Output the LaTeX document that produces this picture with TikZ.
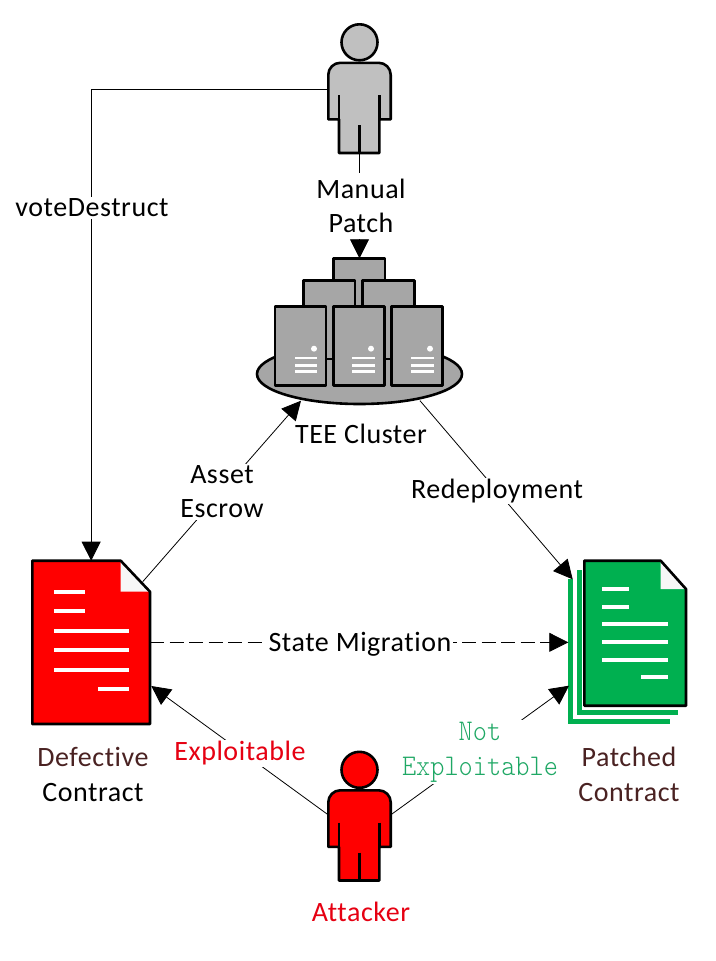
\documentclass[tikz,border=0pt]{standalone}
\usepackage{fontspec}
\setmainfont[LetterSpace=2,Ligatures=NoCommon]{Carlito}
\setmonofont[FakeStretch=0.9]{Latin Modern Mono Light}
\usetikzlibrary{arrows.meta}
\definecolor{brownlabel}{HTML}{4A2222}
\definecolor{redlabel}{HTML}{E60012}
\definecolor{greenlabel}{HTML}{1FA865}
\definecolor{docgreen}{HTML}{00B050}
\definecolor{serverfill}{HTML}{A6A6A6}
\definecolor{personfill}{HTML}{C0C0C0}
\definecolor{foldfill}{HTML}{F7F7F7}
\tikzset{
  outline/.style={draw=black,line width=2.6pt,line join=round},
  anchorbox/.style={inner sep=0pt,outer sep=0pt,rectangle},
  conn/.style={draw=black,line width=0.8pt},
  tip/.style={-{Triangle[length=19pt,width=19pt]}},
  lbl/.style={inner sep=1.5pt,fill=white,align=center,font=\fontsize{28}{34}\selectfont},
  plainlbl/.style={inner sep=0pt,align=center,font=\fontsize{28}{35}\selectfont},
  whitebar/.style={draw=white,line width=4pt},
}
\newcommand{\personfig}[2]{%
  \begin{scope}[shift={(0,#1)}]
    \fill[#2] (359.5,42.3) circle (18);
    \draw[outline] (359.5,42.3) circle (18);
    \path[outline,fill=#2] (328.3,119.3) [rounded corners=12] -- (328.3,62.8) -- (390.7,62.8) [sharp corners] -- (390.7,119.3) -- (379.3,119.3) -- (379.3,153) -- (339,153) -- (339,119.3) -- cycle;
    \draw[outline] (339,95) -- (339,119.3) (379.3,95) -- (379.3,119.3) (359.5,125) -- (359.5,153);
  \end{scope}}
\newcommand{\serverbox}[4]{%
  \path[outline,fill=serverfill] (#1,#2) rectangle (#3,#4);}
\newcommand{\serverfront}[4]{%
  \path[outline,fill=serverfill] (#1,306.7) rectangle (#1+51,385.7);
  \fill[white] (#2,348.7) circle (3);
  \draw[draw=white,line width=2.2pt] (#3,358.3) -- (#4,358.3) (#3,365.5) -- (#4,365.5) (#3,371.5) -- (#4,371.5);}
\begin{document}
\begin{tikzpicture}[x=1pt,y=-1pt]
\useasboundingbox (0,0) rectangle (715,961);
\fill[white] (0,0) rectangle (715,961);

% anchor boxes
\node[anchorbox,minimum width=62.4pt,minimum height=90.2pt] (manual) at (359.5,107.9) {};
\node[anchorbox,minimum width=62.4pt,minimum height=90.2pt] (attacker) at (359.5,835.4) {};
\node[anchorbox,minimum width=205.3pt,minimum height=145.7pt] (cluster) at (359.5,331.15) {};
\node[anchorbox,minimum width=117.7pt,minimum height=163.3pt] (defect) at (91.15,642.35) {};
\node[anchorbox,minimum width=117.7pt,minimum height=163.3pt] (patched) at (627.15,642.35) {};

% persons
\personfig{0}{personfill}
\personfig{727.5}{red}

% cluster
\path[outline,fill=serverfill] (359.5,374) ellipse [x radius=102.5,y radius=30];
\serverbox{333.3}{258.3}{385}{335}
\serverbox{303.3}{280.7}{355}{359}
\serverbox{362.7}{280.7}{414.7}{359}
\serverfront{275}{314}{295}{317}
\serverfront{333.3}{371}{352.3}{374.7}
\serverfront{391.7}{430}{411.3}{433.7}

% defective contract
\path[fill=red] (32.3,560.7) -- (120.7,560.7) -- (150,591.7) -- (150,724) -- (32.3,724) -- cycle;
\fill[foldfill] (120.7,560.7) -- (150,591.7) -- (120.7,591.7) -- cycle;
\draw[outline] (32.3,560.7) -- (120.7,560.7) -- (150,591.7) -- (150,724) -- (32.3,724) -- cycle;
\draw[whitebar] (54,592) -- (84.7,592) (54,611.3) -- (84.7,611.3) (54,631) -- (128.7,631) (54,650.3) -- (128.7,650.3) (54,669.7) -- (128.7,669.7) (98.3,689.3) -- (128.7,689.3);

% patched contract
\fill[docgreen] (568.3,579) rectangle (573.3,724);
\fill[docgreen] (568.3,719) rectangle (670,724);
\fill[docgreen] (576.7,570) rectangle (581.7,715);
\fill[docgreen] (576.7,710) rectangle (677.7,715);
\path[fill=docgreen] (584.3,560.7) -- (660.7,560.7) -- (686,589) -- (686,705.7) -- (584.3,705.7) -- cycle;
\fill[foldfill] (660.7,560.7) -- (686,589) -- (660.7,589) -- cycle;
\draw[outline] (584.3,560.7) -- (660.7,560.7) -- (686,589) -- (686,705.7) -- (584.3,705.7) -- cycle;
\draw[whitebar] (602,589) -- (629,589) (602,607) -- (629,607) (602,624.3) -- (667.7,624.3) (602,642) -- (667.7,642) (602,659.7) -- (667.7,659.7) (641,677.3) -- (667.7,677.3);

% connectors
\draw[conn,tip] ([yshift=19pt]manual.west) -| (defect.north);
\draw[conn,tip] (manual.south) -- (cluster.north);
\draw[conn,tip] ([shift={(-7.3,21)}]defect.north east) -- ([shift={(-58.5,-3.3)}]cluster.south);
\draw[conn,tip] ([shift={(60.5,-3.3)}]cluster.south) -- ([shift={(4.4,18.6)}]patched.north west);
\draw[conn,tip,dash pattern=on 14pt off 5.5pt] (defect.east) -- (patched.west);
\draw[conn,tip] ([yshift=20.5pt]attacker.west) -- ([shift={(1.3,-38)}]defect.south east);
\draw[conn,tip] ([yshift=20.5pt]attacker.east) -- ([shift={(0.7,-38.3)}]patched.south west);

% labels
\node[lbl] (votelbl) at (92,208) {voteDestruct};
\node[lbl,inner ysep=6.5pt] (manuallbl) at (361,206) {Manual\\Patch};
\node[plainlbl] (teelbl) at (361,434) {TEE Cluster};
\node[lbl] (assetlbl) at (222,492) {Asset\\Escrow};
\node[lbl] (redeplbl) at (497,491) {Redeployment};
\node[lbl] (statelbl) at (360,644) {State Migration};
\node[lbl,text=redlabel] (explbl) at (240,753.5) {Exploitable};
\node[lbl,text=greenlabel,font=\ttfamily\fontsize{30}{35}\selectfont] (notlbl) at (480,752) {Not\\Exploitable};
\node[plainlbl] (defectlbl) at (93,774) {\textcolor{brownlabel}{Defective}\\Contract};
\node[plainlbl,text=brownlabel] (patchedlbl) at (629,774) {Patched\\Contract};
\node[plainlbl,text=redlabel] (attackerlbl) at (361,912) {Attacker};
\end{tikzpicture}
\end{document}
